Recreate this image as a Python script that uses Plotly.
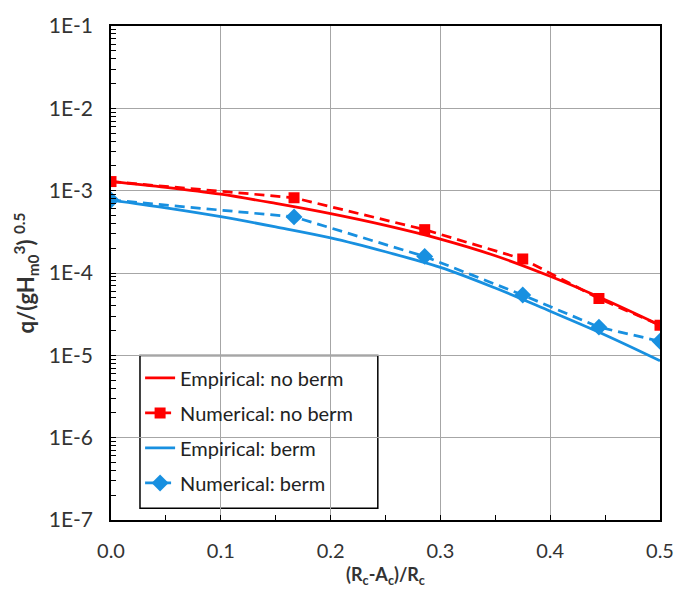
import plotly.graph_objects as go

# Empirical curves
emp_x = [0.0, 0.05, 0.10, 0.15, 0.20, 0.25, 0.30, 0.35, 0.40, 0.45, 0.50]
emp_no_berm = [1.29e-3, 1.10e-3, 9.06e-4, 6.99e-4, 5.25e-4, 3.78e-4, 2.58e-4, 1.62e-4, 9.12e-5, 4.73e-5, 2.32e-5]
emp_berm = [7.69e-4, 6.18e-4, 4.83e-4, 3.63e-4, 2.67e-4, 1.81e-4, 1.17e-4, 6.56e-5, 3.43e-5, 1.77e-5, 8.6e-6]

# Numerical results
num_x = [0.0, 0.1667, 0.2857, 0.375, 0.4444, 0.5]
num_no_berm = [1.29e-3, 8.2e-4, 3.36e-4, 1.48e-4, 4.9e-5, 2.32e-5]
num_berm = [7.7e-4, 4.8e-4, 1.59e-4, 5.4e-5, 2.2e-5, 1.48e-5]

# Axis labels
y_tickvals = [1e-7, 1e-6, 1e-5, 1e-4, 1e-3, 1e-2, 1e-1]
y_ticktext = ["1E-7", "1E-6", "1E-5", "1E-4", "1E-3", "1E-2", "1E-1"]
x_tickvals = [0.0, 0.1, 0.2, 0.3, 0.4, 0.5]
x_ticktext = ["0.0", "0.1", "0.2", "0.3", "0.4", "0.5"]

RED = "#FF0000"
BLUE = "#1890E0"
FONT = "Lato"
TXT = "#333333"

fig = go.Figure()
fig.add_trace(go.Scatter(x=emp_x, y=emp_no_berm, mode="lines", name="Empirical: no berm",
                         line=dict(color=RED, width=2.75, shape="spline"), legendgroup="a"))
fig.add_trace(go.Scatter(x=num_x, y=num_no_berm, mode="lines+markers", name="Numerical: no berm",
                         line=dict(color=RED, width=2.75, dash="10px,6px"),
                         marker=dict(symbol="square", size=11, color=RED), legendgroup="b"))
fig.add_trace(go.Scatter(x=emp_x, y=emp_berm, mode="lines", name="Empirical: berm",
                         line=dict(color=BLUE, width=2.75, shape="spline"), legendgroup="c"))
fig.add_trace(go.Scatter(x=num_x, y=num_berm, mode="lines+markers", name="Numerical: berm",
                         line=dict(color=BLUE, width=2.75, dash="10px,6px"),
                         marker=dict(symbol="diamond", size=13, color=BLUE), legendgroup="d"))

minor_y = [m * 10.0 ** e for e in range(-7, -1) for m in range(2, 10)]

# legend frame (white box with black border, hides gridlines)
fig.add_shape(type="rect", xref="paper", yref="paper",
              x0=0.0528, x1=0.486, y0=0.0238, y1=0.333,
              fillcolor="white", line=dict(color="black", width=1.5), layer="between")

fig.update_layout(
    width=688, height=594,
    margin=dict(l=111, r=28, t=15, b=74),
    paper_bgcolor="white", plot_bgcolor="white",
    font=dict(family=FONT, size=19, color=TXT),
    showlegend=True,
    legend=dict(x=0.053, y=0.327, xanchor="left", yanchor="top",
                bgcolor="rgba(0,0,0,0)", borderwidth=0,
                font=dict(family=FONT, size=20, color="#222222"),
                traceorder="grouped", tracegroupgap=6,
                itemwidth=30),
    xaxis=dict(range=[0, 0.5], tickmode="array", tickvals=x_tickvals, ticktext=x_ticktext,
               tickfont=dict(family=FONT, size=20, color=TXT),
               showgrid=True, gridcolor="#A6A6A6", gridwidth=1,
               showline=True, linecolor="black", linewidth=1.5, mirror=True,
               ticks="inside", ticklen=5, tickcolor="black",
               minor=dict(tickmode="array", tickvals=[0.05, 0.15, 0.25, 0.35, 0.45],
                          ticks="inside", ticklen=5, tickcolor="black", showgrid=False),
               zeroline=False, ticklabelstandoff=12,
               title=dict(text="<b>(R<sub>c</sub>-A<sub>c</sub>)/R<sub>c</sub></b>",
                          font=dict(family=FONT, size=18, color=TXT), standoff=8)),
    yaxis=dict(type="log", range=[-7, -1], tickmode="array", tickvals=y_tickvals, ticktext=y_ticktext,
               tickfont=dict(family=FONT, size=21, color=TXT),
               showgrid=True, gridcolor="#A6A6A6", gridwidth=1,
               showline=True, linecolor="black", linewidth=1.5, mirror=True,
               ticks="inside", ticklen=5, tickcolor="black",
               minor=dict(tickmode="array", tickvals=minor_y,
                          ticks="inside", ticklen=5, tickcolor="black", showgrid=False),
               zeroline=False, ticklabelstandoff=12,
               title=dict(text="<b>q/(gH<sub>m0</sub><sup>3</sup>) <sup>0.5</sup></b>",
                          font=dict(family=FONT, size=22, color=TXT), standoff=8)),
)

fig.write_html("out.html")
